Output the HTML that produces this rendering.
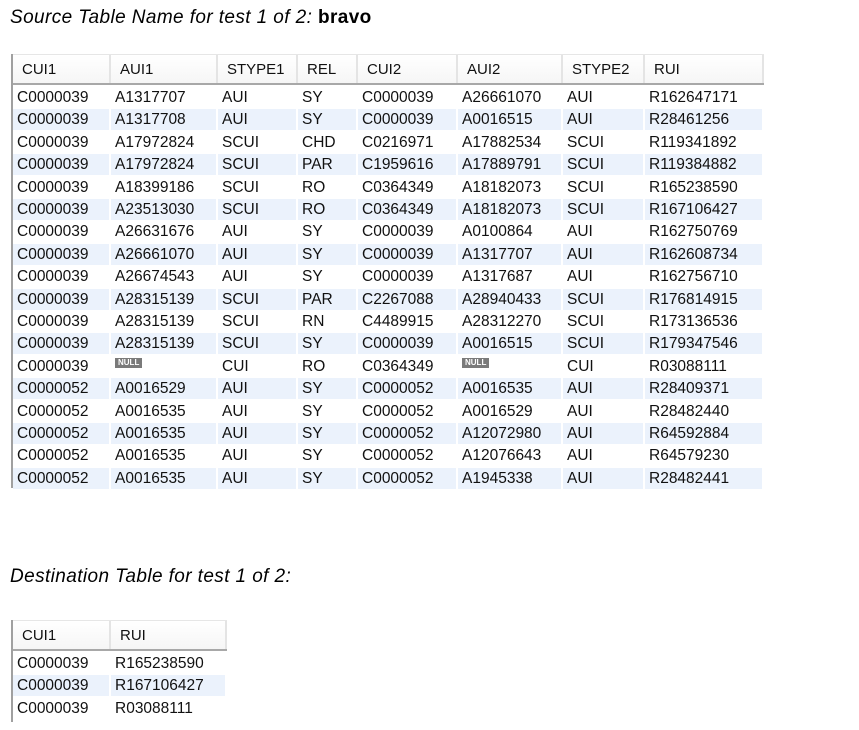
<!DOCTYPE html>
<html><head><meta charset="utf-8">
<style>
body{margin:0;width:859px;height:730px;background:#fff;position:relative;overflow:hidden;font-family:"Liberation Sans",sans-serif;}
.title{position:absolute;left:10px;font-size:19px;letter-spacing:0.4px;font-style:italic;color:#000;white-space:nowrap;}
.title b{font-style:normal;}
.tbl{position:absolute;border-left:2px solid #a0a0a0;}
.hdr{position:absolute;left:0;top:0;height:28px;border-top:1px solid #e6e6e6;border-bottom:2px solid #a8a8a8;background:linear-gradient(#fff,#f6f6f6);}
.hc{position:absolute;top:0;height:28px;border-right:2px solid #e4e4e4;font-size:15px;line-height:30px;padding-left:9px;box-sizing:border-box;color:#111;}
.row{position:absolute;left:0;height:22.4px;}
.c{position:absolute;top:0;height:21px;font-size:15.5px;line-height:22px;padding-left:4px;box-sizing:border-box;color:#111;white-space:nowrap;}
.row.alt .c{background:#ebf2fc;border-right:2px solid #fff;}
.null{display:inline-block;background:#7a7a7a;color:#fff;font-size:8px;font-weight:bold;line-height:10px;padding:0 3px;vertical-align:top;margin-top:2px;}
</style></head><body>
<div class="title" style="top:7px">Source Table Name for test 1 of 2: <b>bravo</b></div>
<div class="tbl" id="src" style="left:11px;top:54px;width:751px;height:434px"></div>
<div class="title" style="top:566px">Destination Table for test 1 of 2:</div>
<div class="tbl" id="dst" style="left:11px;top:620px;width:214px;height:102px"></div>
<script>
const srcCols=["CUI1","AUI1","STYPE1","REL","CUI2","AUI2","STYPE2","RUI"];
const srcRows=[
["C0000039","A1317707","AUI","SY","C0000039","A26661070","AUI","R162647171"],
["C0000039","A1317708","AUI","SY","C0000039","A0016515","AUI","R28461256"],
["C0000039","A17972824","SCUI","CHD","C0216971","A17882534","SCUI","R119341892"],
["C0000039","A17972824","SCUI","PAR","C1959616","A17889791","SCUI","R119384882"],
["C0000039","A18399186","SCUI","RO","C0364349","A18182073","SCUI","R165238590"],
["C0000039","A23513030","SCUI","RO","C0364349","A18182073","SCUI","R167106427"],
["C0000039","A26631676","AUI","SY","C0000039","A0100864","AUI","R162750769"],
["C0000039","A26661070","AUI","SY","C0000039","A1317707","AUI","R162608734"],
["C0000039","A26674543","AUI","SY","C0000039","A1317687","AUI","R162756710"],
["C0000039","A28315139","SCUI","PAR","C2267088","A28940433","SCUI","R176814915"],
["C0000039","A28315139","SCUI","RN","C4489915","A28312270","SCUI","R173136536"],
["C0000039","A28315139","SCUI","SY","C0000039","A0016515","SCUI","R179347546"],
["C0000039",null,"CUI","RO","C0364349",null,"CUI","R03088111"],
["C0000052","A0016529","AUI","SY","C0000052","A0016535","AUI","R28409371"],
["C0000052","A0016535","AUI","SY","C0000052","A0016529","AUI","R28482440"],
["C0000052","A0016535","AUI","SY","C0000052","A12072980","AUI","R64592884"],
["C0000052","A0016535","AUI","SY","C0000052","A12076643","AUI","R64579230"],
["C0000052","A0016535","AUI","SY","C0000052","A1945338","AUI","R28482441"]];
const dstCols=["CUI1","RUI"];
const dstRows=[["C0000039","R165238590"],["C0000039","R167106427"],["C0000039","R03088111"]];
function build(host,cols,rows,edges,prefix){
  const w=edges[edges.length-1];
  const h=document.createElement('div');h.className='hdr';h.style.width=w+'px';
  
  
  host.appendChild(h);
  cols.forEach((c,i)=>{const d=document.createElement('div');d.className='hc';
    d.style.left=edges[i]+'px';d.style.width=(edges[i+1]-edges[i])+'px';d.textContent=c;
    
    
    h.appendChild(d);});
  rows.forEach((r,j)=>{const row=document.createElement('div');row.className='row'+(j%2?' alt':'');
    row.style.top=(33+j*22.4)+'px';row.style.width=w+'px';
    
    
    r.forEach((v,i)=>{const d=document.createElement('div');d.className='c';
      d.style.left=edges[i]+'px';d.style.width=(edges[i+1]-edges[i])+'px';
      if(v===null){d.innerHTML='<span class="null">NULL</span>';}else d.textContent=v;
      
      
      row.appendChild(d);});
    host.appendChild(row);});
}
build(document.getElementById('src'),srcCols,srcRows,[0,98,205,285,345,445,550,632,751],'source');
build(document.getElementById('dst'),dstCols,dstRows,[0,98,214],'destination');
</script>
</body></html>
